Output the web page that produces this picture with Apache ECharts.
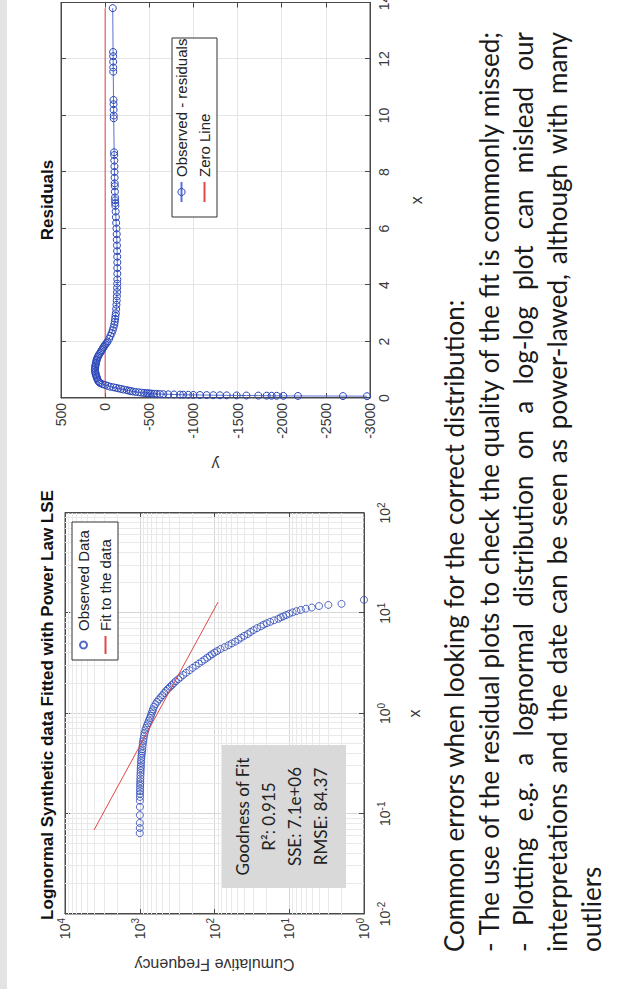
<!DOCTYPE html>
<html><head><meta charset="utf-8">
<script src="https://cdn.jsdelivr.net/npm/echarts@6/dist/echarts.min.js"></script>
<style>
html,body{margin:0;padding:0;background:#fff;}
#wrap{position:relative;width:629px;height:989px;overflow:hidden;background:#fff;}
#chart{position:absolute;left:0;top:0;width:989px;height:629px;transform-origin:0 0;transform:translate(0,989px) rotate(-90deg);}
</style></head><body>
<div id="wrap"><div id="chart"></div></div>
<script>
// ---- data ----
const obsX = [0.064,0.072,0.081,0.097,0.117,0.135,0.147,0.158,0.168,0.178,0.19,0.2,0.212,0.225,0.24,0.255,0.27,0.285,0.3,0.32,0.34,0.36,0.38,0.4,0.42,0.44,0.47,0.5,0.53,0.56,0.6,0.64,0.68,0.72,0.76,0.8,0.85,0.9,0.95,1.0,1.05,1.1,1.17,1.24,1.31,1.38,1.45,1.52,1.6,1.68,1.76,1.84,1.92,2.0,2.1,2.2,2.3,2.42,2.55,2.7,2.85,3.0,3.15,3.3,3.45,3.6,3.75,3.9,4.05,4.2,4.4,4.6,4.8,5.0,5.2,5.45,5.7,5.95,6.2,6.5,6.8,7.1,7.4,7.7,7.95,8.2,8.5,8.8,9.1,9.3,9.6,9.9,10.2,10.5,10.8,11.1,11.4,11.8,12.1,12.4,13.6];
const obsY = [1000,999,998,997,996,995,994,993,992,990,988,986,984,982,979,976,973,970,966,962,957,952,946,940,933,926,918,910,900,890,875,860,842,822,800,778,755,732,712,695,678,665,645,615,585,555,525,498,470,445,420,395,372,352,330,305,285,262,240,216,196,178,162,148,136,125,116,108,100,92,83,73,65,59,53,48,44,40,36,33,30,27,24,22,20,18,16,14,13,12,11,10,9,8,7,6,5,4,3,2,1];
const fitX = [0.0688, 12.9];
const fitY = [4090, 89.8];
const resX = [0.064,0.068,0.072,0.075,0.078,0.080,0.082,0.085,0.088,0.091,0.094,0.097,0.100,0.103,0.106,0.110,0.113,0.116,0.120,0.125,0.130,0.135,0.140,0.145,0.150,0.155,0.160,0.165,0.170,0.180,0.190,0.200,0.215,0.230,0.245,0.260,0.280,0.300,0.320,0.340,0.360,0.380,0.400,0.430,0.460,0.490,0.520,0.560,0.600,0.650,0.700,0.750,0.800,0.850,0.900,0.950,1.000,1.050,1.100,1.150,1.200,1.250,1.300,1.350,1.400,1.450,1.500,1.550,1.600,1.650,1.700,1.750,1.800,1.850,1.900,1.950,2.000,2.100,2.200,2.300,2.400,2.500,2.600,2.700,2.800,2.900,3.000,3.150,3.300,3.450,3.600,3.750,3.900,4.050,4.200,4.400,4.600,4.800,5.000,5.200,5.400,5.600,5.800,6.000,6.200,6.400,6.600,6.800,6.900,7.000,7.100,7.300,7.500,7.600,7.800,8.000,8.200,8.400,8.600,8.700,9.900,10.000,10.200,10.400,10.550,11.550,11.700,11.900,12.100,12.250,13.800];
const resY = [-2966,-2694,-2184,-2018,-1943,-1886,-1830,-1735,-1600,-1490,-1377,-1300,-1225,-1150,-1074,-999,-942,-885,-848,-780,-715,-659,-620,-584,-555,-527,-505,-488,-470,-440,-410,-380,-345,-315,-290,-268,-244,-210,-180,-150,-122,-92,-58,-28,0,30,55,68,78,86,92,97,103,108,111,113,115,114,112,110,107,103,100,96,90,84,76,66,55,46,37,28,17,8,-3,-17,-28,-45,-60,-74,-86,-95,-103,-109,-113,-117,-121,-125,-128,-131,-133,-135,-136,-137,-138,-138,-138,-138,-137,-136,-134,-132,-131,-128,-125,-122,-119,-116,-114,-113,-112,-110,-109,-108,-107,-106,-105,-104,-103,-102,-97,-97,-96,-95,-95,-92,-92,-91,-91,-90,-86];
const zeroX = [0.064, 13.8];
const zeroY = [0, 0];
const minorMult = [2,3,4,5,6,7,8,9];
const xDecades = [0.01, 0.1, 1, 10];
const yDecades = [1, 10, 100, 1000];
const fitStats = ['Goodness of Fit', 'R\u00B2: 0.915', 'SSE: 7.1e+06', 'RMSE: 84.37'];
const captionLines = [
  'Common errors when looking for the correct distribution:',
  '- The use of the residual plots to check the quality of the fit is commonly missed;',
  '- Plotting e.g. a lognormal distribution on a log-log plot can mislead our',
  'interpretations and the date can be seen as power-lawed, although with many',
  'outliers'
];

// ---- styles ----
const BLUE = '#2a46b8', LBLUE = '#5a70d0', RED = '#e04848', AX = '#4a4a4a', LAB = '#3a3a3a';
const NF = 'Liberation Sans', TF = 'Lato';
const HOLLOW = {color: 'rgba(0,0,0,0)', borderColor: BLUE, borderWidth: 1};

const zip = (a, b) => a.map((v, i) => [v, b[i]]);
const minorLines = [];
xDecades.forEach(d => minorMult.forEach(m => minorLines.push({xAxis: d * m})));
yDecades.forEach(d => minorMult.forEach(m => minorLines.push({yAxis: d * m})));

const supFmt = v => '{b|10}{s|' + Math.round(Math.log10(v)) + '}';
const supRich = { b: {fontSize: 14, fontFamily: NF, color: LAB}, s: {fontSize: 10, fontFamily: NF, color: LAB, padding: [0, 0, 8, 0]} };

function baseAxis(extra) {
  return Object.assign({
    axisLine: {show: true, onZero: false, lineStyle: {color: AX, width: 1}},
    axisTick: {show: true, inside: true, length: 5, lineStyle: {color: AX}},
    splitLine: {show: true, lineStyle: {color: '#d6d6d6', width: 1}},
    axisLabel: {color: LAB, fontFamily: NF, fontSize: 14},
    nameLocation: 'middle',
    nameTextStyle: {color: '#333', fontFamily: NF, fontSize: 16}
  }, extra);
}
function mirror(extra) {
  return Object.assign({
    axisLine: {show: true, onZero: false, lineStyle: {color: AX}},
    axisTick: {show: true, inside: true, length: 5, lineStyle: {color: AX}},
    axisLabel: {show: false}, splitLine: {show: false}
  }, extra);
}

// caption layout (justified lines measured with canvas)
const mctx = document.createElement('canvas').getContext('2d');
mctx.font = '21px ' + TF;
const capFs = Math.round(21 * 655 / mctx.measureText(captionLines[0]).width * 2) / 2;
const capFont = capFs + 'px ' + TF;
mctx.font = capFont;
const capX0 = 37, capX1 = 957, capY = [454, 489, 523, 557, 591];
const capEls = [];
captionLines.forEach((line, li) => {
  const justify = li >= 1 && li <= 3;
  if (!justify) {
    capEls.push({type: 'text', x: capX0, y: capY[li], style: {text: line, font: capFont, fill: '#1a1a1a', textAlign: 'left', textVerticalAlign: 'middle'}});
    return;
  }
  const words = line.split(' ');
  const widths = words.map(w => mctx.measureText(w).width);
  const gap = (capX1 - capX0 - widths.reduce((a, b) => a + b, 0)) / (words.length - 1);
  let x = capX0;
  words.forEach((w, i) => {
    capEls.push({type: 'text', x: x, y: capY[li], style: {text: w, font: capFont, fill: '#1a1a1a', textAlign: 'left', textVerticalAlign: 'middle'}});
    x += widths[i] + gap;
  });
});

const graphics = [
  {type: 'rect', shape: {x: 0, y: 0, width: 989, height: 7}, style: {fill: '#e3e3e3'}, z: 0},
  {type: 'text', x: 284, y: 47, style: {text: 'Lognormal Synthetic data Fitted with Power Law LSE', font: 'bold 17px "' + NF + '"', fill: '#111', textAlign: 'center', textVerticalAlign: 'middle'}},
  {type: 'text', x: 789, y: 47, style: {text: 'Residuals', font: 'bold 17px "' + NF + '"', fill: '#111', textAlign: 'center', textVerticalAlign: 'middle'}},
  {type: 'rect', shape: {x: 101, y: 222, width: 143, height: 124}, style: {fill: '#d9d9d9'}, z: 9},
  {type: 'rect', shape: {x: 329, y: 72, width: 138, height: 46}, style: {fill: '#fff', stroke: '#333', lineWidth: 1}, z: 9},
  {type: 'rect', shape: {x: 772, y: 172, width: 179, height: 45}, style: {fill: '#fff', stroke: '#333', lineWidth: 1}, z: 9}
];
const statY = [242, 268, 294, 320];
fitStats.forEach((t, i) => graphics.push({type: 'text', x: 172.5, y: statY[i], z: 10, style: {text: t, font: '17px ' + TF, fill: '#222', textAlign: 'center', textVerticalAlign: 'middle'}}));
capEls.forEach(e => graphics.push(e));

const chart = echarts.init(document.getElementById('chart'), null, {renderer: 'svg', width: 989, height: 629});
chart.setOption({
  animation: false,
  backgroundColor: '#fff',
  grid: [
    {left: 75, top: 65, width: 401, height: 299, show: true, borderColor: AX, borderWidth: 1, outerBoundsMode: 'none'},
    {left: 591, top: 61, width: 395.5, height: 309, show: true, borderColor: AX, borderWidth: 1, outerBoundsMode: 'none'}
  ],
  xAxis: [
    baseAxis({gridIndex: 0, type: 'log', logBase: 10, min: 0.01, max: 100, position: 'bottom',
      axisLabel: {formatter: supFmt, rich: supRich, margin: 12, color: LAB, fontFamily: NF, fontSize: 14},
      name: 'x', nameGap: 42}),
    baseAxis({gridIndex: 1, type: 'value', min: 0, max: 14, interval: 2, position: 'bottom',
      axisLabel: {color: LAB, fontFamily: NF, fontSize: 14, margin: 7, formatter: v => String(v)},
      splitLine: {show: true, lineStyle: {color: '#e4e4e4'}}, name: 'x', nameGap: 38}),
    mirror({gridIndex: 0, type: 'log', logBase: 10, min: 0.01, max: 100, position: 'top'}),
    mirror({gridIndex: 1, type: 'value', min: 0, max: 14, interval: 2, position: 'top'})
  ],
  yAxis: [
    baseAxis({gridIndex: 0, type: 'log', logBase: 10, min: 1, max: 10000, position: 'left',
      axisLabel: {formatter: supFmt, rich: supRich, margin: 4, color: LAB, fontFamily: NF, fontSize: 14},
      name: 'Cumulative Frequency', nameGap: 42}),
    baseAxis({gridIndex: 1, type: 'value', min: -3000, max: 500, interval: 500, position: 'left',
      axisLabel: {color: LAB, fontFamily: NF, fontSize: 14, margin: 5, formatter: v => String(v)},
      splitLine: {show: true, lineStyle: {color: '#e4e4e4'}}, name: 'y', nameGap: 58}),
    mirror({gridIndex: 0, type: 'log', logBase: 10, min: 1, max: 10000, position: 'right'}),
    mirror({gridIndex: 1, type: 'value', min: -3000, max: 500, interval: 500, position: 'right'})
  ],
  legend: [
    {data: ['Observed Data', {name: 'Fit to the data', itemStyle: {opacity: 0}}], orient: 'vertical', left: 334, top: 76, itemWidth: 18, itemHeight: 7, itemGap: 7, padding: 0, selectedMode: false, z: 12,
      textStyle: {fontSize: 15, fontFamily: NF, color: '#222'}},
    {data: [{name: 'Observed - residuals', itemStyle: HOLLOW}, {name: 'Zero Line', itemStyle: {opacity: 0}}], orient: 'vertical', left: 786, top: 174, itemWidth: 20, itemHeight: 9, itemGap: 8, padding: 0, selectedMode: false, z: 12,
      textStyle: {fontSize: 15, fontFamily: NF, color: '#222'}}
  ],
  graphic: graphics,
  series: [
    {type: 'line', name: 'minor', xAxisIndex: 0, yAxisIndex: 0, data: [], z: 1, silent: true,
      markLine: {silent: true, z: 1, symbol: 'none', label: {show: false}, animation: false,
        lineStyle: {color: '#e9e9e9', type: 'solid', width: 1}, emphasis: {disabled: true}, data: minorLines}},
    {type: 'scatter', name: 'Observed Data', xAxisIndex: 0, yAxisIndex: 0, data: zip(obsX, obsY), symbol: 'circle', symbolSize: 7, z: 3,
      itemStyle: HOLLOW},
    {type: 'line', name: 'Fit to the data', xAxisIndex: 0, yAxisIndex: 0, data: zip(fitX, fitY), symbol: 'none', z: 4,
      lineStyle: {color: RED, width: 1}, itemStyle: {color: RED}},
    {type: 'line', name: 'Observed - residuals', xAxisIndex: 1, yAxisIndex: 1, data: zip(resX, resY), symbol: 'circle', symbolSize: 7, showAllSymbol: true, z: 3,
      lineStyle: {color: LBLUE, width: 1}, itemStyle: HOLLOW},
    {type: 'line', name: 'Zero Line', xAxisIndex: 1, yAxisIndex: 1, data: zip(zeroX, zeroY), symbol: 'none', z: 2,
      lineStyle: {color: RED, width: 1}, itemStyle: {color: RED}}
  ]
});
</script>
</body></html>
